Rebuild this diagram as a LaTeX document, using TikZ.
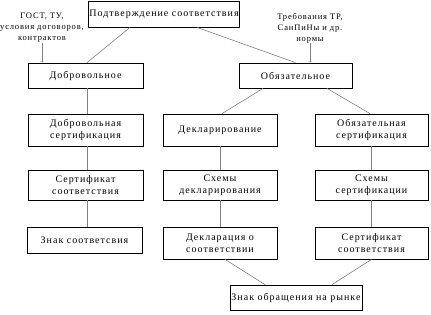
\documentclass[tikz,border=0pt]{standalone}
\usepackage{fontspec}
\setmainfont[LetterSpace=10]{Liberation Serif}

\begin{document}
\begin{tikzpicture}[
			x=1pt, y=-1pt,
			bloco/.style={rectangle, draw, line width=0.8pt, align=center, inner sep=1pt, font=\fontsize{10}{12}\selectfont},
			nota/.style={align=center, inner sep=0pt, font=\fontsize{8.5}{11}\selectfont},
			liga/.style={draw=gray, line width=0.6pt}
			]
			\useasboundingbox (0,0) rectangle (431,314);
			\node[bloco, minimum width=148pt, minimum height=26pt] (conf) at (164,14) {Подтверждение соответствия};
			\node[bloco, minimum width=115pt, minimum height=25pt] (vol) at (85.5,75.5) {Добровольное};
			\node[bloco, minimum width=113pt, minimum height=25pt] (obr) at (295.5,75.5) {Обязательное};
			
			\node[bloco, minimum width=115pt, minimum height=32pt] (volsert) at (85.5,130) {Добровольная\\сертификация};
			\node[bloco, minimum width=114pt, minimum height=32pt] (dekl) at (220,130) {Декларирование};
			\node[bloco, minimum width=113pt, minimum height=32pt] (obsert) at (371.5,130) {Обязательная\\сертификация};
			
			\node[bloco, minimum width=115pt, minimum height=30pt] (sert1) at (85.5,185) {Сертификат\\соответствия};
			\node[bloco, minimum width=114pt, minimum height=30pt] (shdekl) at (220,185) {Схемы\\декларирования};
			\node[bloco, minimum width=113pt, minimum height=30pt] (shsert) at (371.5,185) {Схемы\\сертификации};
			
			\node[bloco, minimum width=115pt, minimum height=26pt] (znak) at (84.5,240) {Знак соответсвия};
			\node[bloco, minimum width=114pt, minimum height=32pt] (dekls) at (220,243) {Декларация о\\соответствии};
			\node[bloco, minimum width=113pt, minimum height=32pt] (sert2) at (371.5,243) {Сертификат\\соответствия};
			
			\node[bloco, minimum width=132pt, minimum height=25pt] (rynok) at (296,297.5) {Знак обращения на рынке};
			
			\node[nota] (gost) at (42,28) {ГОСТ, ТУ,\\условия договоров,\\контрактов};
			\node[nota] (treb) at (310,28) {Требования ТР,\\СанПиНы и др.\\нормы};
			
			\draw[->, gray] (gost.south) -- (gost.south |- vol.north);
			\draw[->, gray] (treb.south) -- (treb.south |- obr.north);
			
			\draw[liga] ([xshift=-34pt]conf.south) -- ([xshift=1.5pt]vol.north);
			\draw[liga] ([xshift=33pt]conf.south) -- (obr.north);
			\draw[liga] ([xshift=-32.5pt]obr.south) -- ([xshift=2pt]dekl.north);
			\draw[liga] ([xshift=31.5pt]obr.south) -- ([xshift=-1.5pt]obsert.north);
			
			\draw[liga] ([xshift=1.5pt]vol.south) -- ([xshift=1.5pt]volsert.north);
			\draw[liga] ([xshift=1.5pt]volsert.south) -- ([xshift=1.5pt]sert1.north);
			\draw[liga] ([xshift=1.5pt]sert1.south) -- ([xshift=2.5pt]znak.north);
			\draw[liga] (dekl) -- (shdekl);
			\draw[liga] (shdekl) -- (dekls);
			\draw[liga] (obsert) -- (shsert);
			\draw[liga] (shsert) -- (sert2);
			
			\draw[liga] ([xshift=5pt]dekls.south) -- ([xshift=-31pt]rynok.north);
			\draw[liga] (sert2.south) -- ([xshift=36pt]rynok.north);
		\end{tikzpicture}
\end{document}
